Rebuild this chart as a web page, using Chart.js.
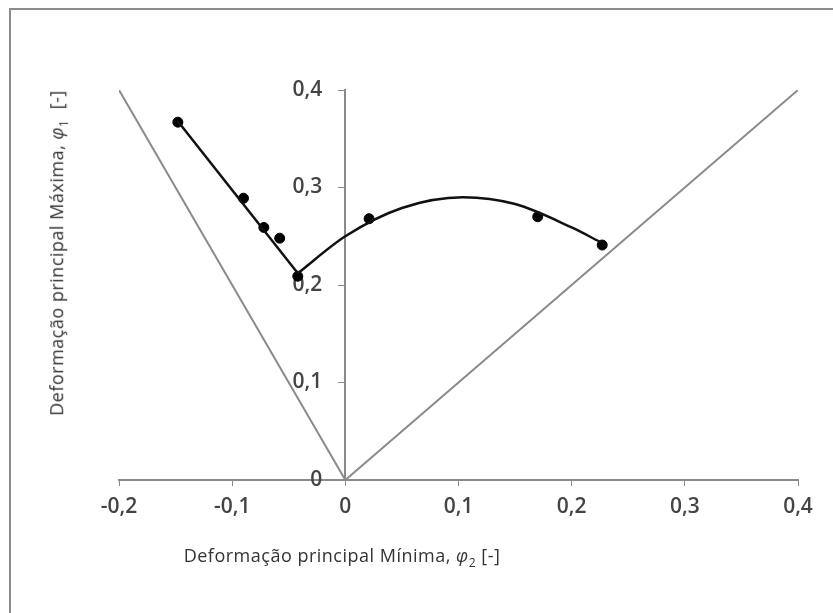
<!DOCTYPE html>
<html>
<head>
<meta charset="utf-8">
<script src="https://cdn.jsdelivr.net/npm/chart.js@4/dist/chart.umd.min.js"></script>
<style>
  body { margin: 0; background: #fff; }
  #wrap { position: relative; width: 833px; height: 613px; overflow: hidden; }
  #frame { position: absolute; left: 9px; top: 8px; right: -5px; bottom: -5px; border-top: 2px solid #8c8c8c; border-left: 2px solid #8c8c8c; }
  canvas { position: absolute; left: 0; top: 0; }
  .title { position: absolute; font-family: "Open Sans", sans-serif; font-size: 18px; letter-spacing: 0.5px; color: #333; white-space: nowrap; }
  #ytitle { left: 58px; top: 253px; transform: translate(-50%, -50%) rotate(-90deg); }
  #xtitle { left: 342px; top: 557px; transform: translate(-50%, -50%); }
  sub { font-size: 12px; }
</style>
</head>
<body>
<div id="wrap">
  <div id="frame"></div>
  <canvas id="chart" width="833" height="613"></canvas>
  <div class="title" id="ytitle">Deformação principal Máxima, <i>φ</i><sub>1</sub> &nbsp;[-]</div>
  <div class="title" id="xtitle">Deformação principal Mínima, <i>φ</i><sub>2</sub> [-]</div>
</div>
<script>
const xTicks = ["-0,2", "-0,1", "0", "0,1", "0,2", "0,3", "0,4"];
const yTicks = ["0", "0,1", "0,2", "0,3", "0,4"];

// measured points
const measX = [-0.148, -0.090, -0.072, -0.058, -0.042, 0.021, 0.170, 0.227];
const measY = [0.367, 0.289, 0.259, 0.248, 0.209, 0.268, 0.270, 0.241];

// left straight branch
const leftX = [-0.148, -0.042];
const leftY = [0.368, 0.212];

// curved branch
const curveX = [-0.042, 0, 0.05, 0.104, 0.15, 0.2, 0.227];
const curveY = [0.212, 0.250, 0.279, 0.290, 0.283, 0.259, 0.243];

// limit lines
const limLeftX = [-0.2, 0];
const limLeftY = [0.4, 0];
const limRightX = [0, 0.4];
const limRightY = [0, 0.4];

function pts(xs, ys) {
    return xs.map((x, i) => ({ x: x, y: ys[i] }));
}

const grey = "#8a8a8a";
const tickFont = { family: "Open Sans", size: 21, weight: "600" };

// y axis sits at x=0, push its labels left of the tick marks
const shiftYLabels = {
    id: "shiftYLabels",
    beforeDraw(chart) {
        const items = chart.scales.y.getLabelItems();
        if (items._shifted) return;
        items.forEach(it => { it.options.translation[0] -= 23; });
        items._shifted = true;
    }
};

new Chart(document.getElementById("chart"), {
    type: "scatter",
    data: {
        datasets: [
            { data: pts(limLeftX, limLeftY), showLine: true, borderColor: grey, borderWidth: 2, pointRadius: 0 },
            { data: pts(limRightX, limRightY), showLine: true, borderColor: grey, borderWidth: 2, pointRadius: 0 },
            { data: pts(leftX, leftY), showLine: true, borderColor: "#111", borderWidth: 2.5, pointRadius: 0 },
            { data: pts(curveX, curveY), showLine: true, borderColor: "#111", borderWidth: 2.5, pointRadius: 0, cubicInterpolationMode: "monotone" },
            { data: pts(measX, measY), backgroundColor: "#000", borderColor: "#000", pointRadius: 5 }
        ]
    },
    options: {
        responsive: false,
        animation: false,
        devicePixelRatio: 1,
        layout: { padding: { left: 119, right: 35, top: 90, bottom: 133 } },
        plugins: { legend: { display: false }, tooltip: { enabled: false } },
        scales: {
            x: {
                type: "linear",
                position: { y: 0 },
                min: -0.2, max: 0.4,
                afterFit: s => { s.height = 0; },
                border: { display: true, color: grey, width: 2 },
                grid: { display: true, drawOnChartArea: false, drawTicks: true, tickLength: 5, color: grey },
                ticks: {
                    stepSize: 0.1,
                    padding: 9,
                    color: "#444",
                    font: tickFont,
                    callback: v => xTicks[Math.round((v + 0.2) * 10)]
                }
            },
            y: {
                type: "linear",
                position: { x: 0 },
                min: 0, max: 0.4,
                afterFit: s => { s.width = 0; },
                border: { display: true, color: grey, width: 2 },
                grid: { display: true, drawOnChartArea: false, drawTicks: true, tickLength: 6, color: grey },
                ticks: {
                    stepSize: 0.1,
                    color: "#444",
                    font: tickFont,
                    callback: v => yTicks[Math.round(v * 10)]
                }
            }
        }
    },
    plugins: [shiftYLabels]
});
</script>
</body>
</html>
